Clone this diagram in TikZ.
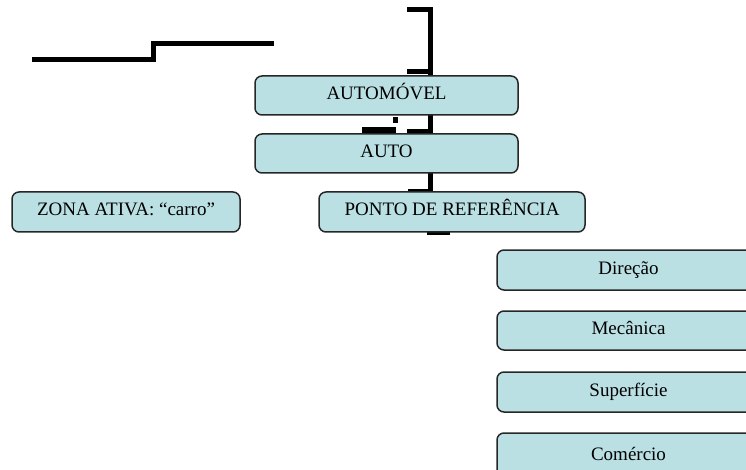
\documentclass[tikz,border=0pt]{standalone}
\usepackage{fontspec}
\setmainfont{Liberation Serif}
\usetikzlibrary{backgrounds}
\definecolor{boxfill}{RGB}{186,224,228}
\begin{document}
\begin{tikzpicture}[x=1pt,y=-1pt,
  box/.style={draw=black!85,line width=1.5pt,fill=boxfill,rounded corners=7pt,
    minimum width=263pt,minimum height=39pt,inner sep=0pt,
    font=\fontsize{19}{23}\selectfont,text height=12pt,text depth=4pt},
  bar/.style={line width=5pt,black},
  thinbar/.style={line width=3.5pt,black}]
\clip (0,0) rectangle (746,470);
\useasboundingbox (0,0) rectangle (746,470);
% boxes
\node[box] (automovel) at (386.5,95.5) {AUTOMÓVEL};
\node[box] (auto) at (386.5,153.5) {AUTO};
\node[box,minimum width=228pt,minimum height=40pt] (zona) at (126,212) {ZONA ATIVA: “carro”};
\node[box,minimum width=266pt,minimum height=40pt] (ponto) at (452,212) {PONTO DE REFERÊNCIA};
\node[box,minimum height=40pt] (direcao) at (628.5,270) {Direção};
\node[box] (mecanica) at (628.5,330.5) {Mecânica};
\node[box,minimum height=40pt] (superficie) at (628.5,392) {Superfície};
\node[box,minimum height=46pt,text height=15pt,text depth=7pt] (comercio) at (628.5,456) {Comércio};
% connector fragments behind the boxes
\begin{scope}[on background layer]
  \coordinate (s1) at (32,59.5);
  \coordinate (s2) at (153,59.5);
  \coordinate (s3) at (153,43.5);
  \coordinate (s4) at (274,43.5);
  \draw[bar] (s1) -- (s2) -- (s3) -- (s4);
  \coordinate (b1) at (407,10);
  \coordinate (b2) at (430.5,10);
  \coordinate (b3) at (407,72);
  \draw[bar] (b1) -- (b2) |- (b3);
  \coordinate (v1) at (430.5,72);
  \draw[bar] (v1) -- (v1 |- ponto.north);
  \coordinate (p1) at (408,191);
  \draw[thinbar] (p1) -- (p1 -| v1);
  \coordinate (q1) at (427,233.5);
  \coordinate (q2) at (450,233.5);
  \draw[thinbar] (q1) -- (q2);
  \fill[black] (393,117) rectangle (398,123);
  \fill[black] (362,127) rectangle (396,133.5);
  \fill[black] (407,129) rectangle (431,133.5);
\end{scope}
\end{tikzpicture}
\end{document}
